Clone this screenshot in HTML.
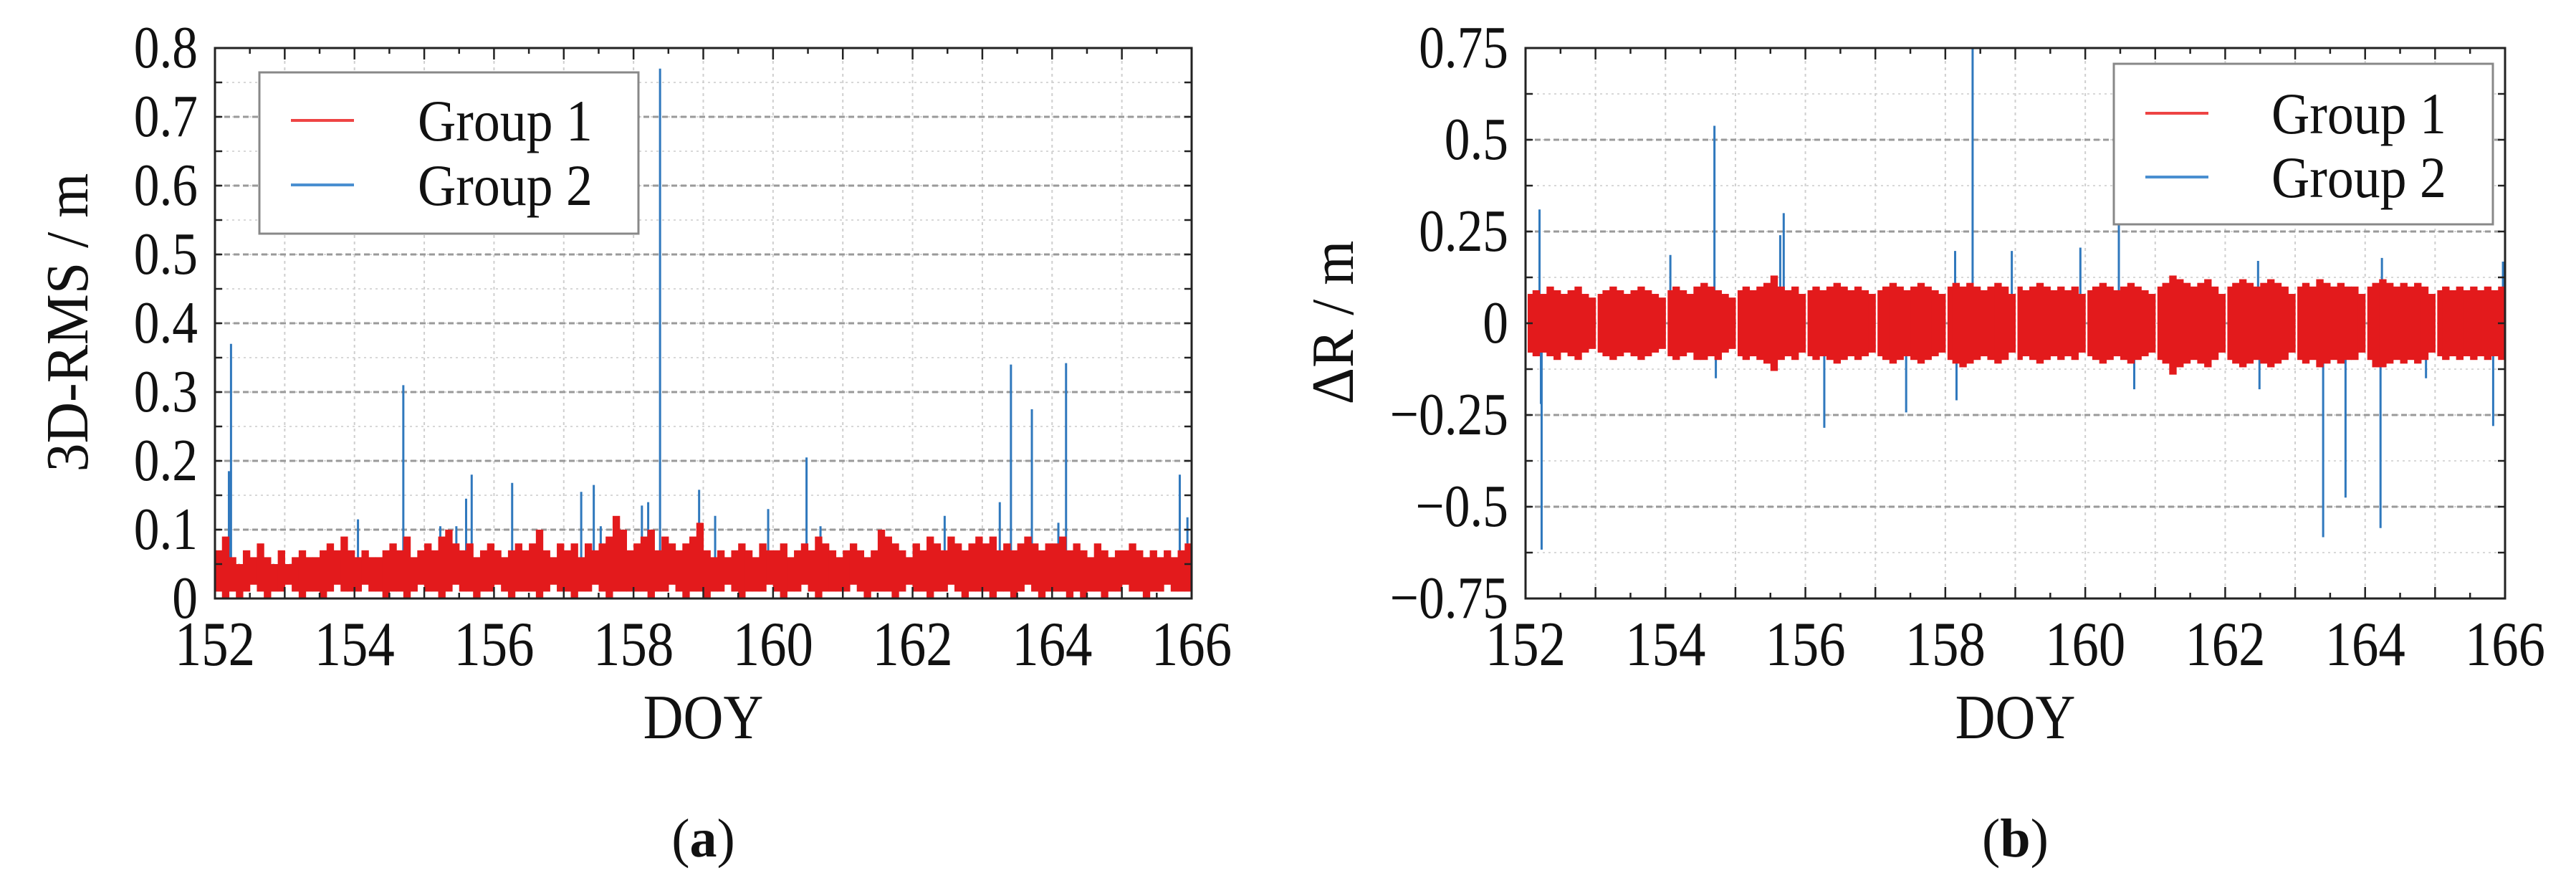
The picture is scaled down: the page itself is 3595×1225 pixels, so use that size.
<!DOCTYPE html>
<html><head><meta charset="utf-8"><style>
html,body{margin:0;padding:0;background:#fff}
svg{display:block}
text{font-family:"Liberation Serif",serif;fill:#111}
</style></head><body>
<svg id="fig" width="3595" height="1225" viewBox="0 0 3595 1225" xmlns="http://www.w3.org/2000/svg"></svg>
<script>
// ---------- data ----------
const xTicksA = [152,154,156,158,160,162,164,166];
const yTicksA = [0,0.1,0.2,0.3,0.4,0.5,0.6,0.7,0.8];
const yTickLabelsA = ["0","0.1","0.2","0.3","0.4","0.5","0.6","0.7","0.8"];
const yTicksB = [-0.75,-0.5,-0.25,0,0.25,0.5,0.75];
const yTickLabelsB = ["\u22120.75","\u22120.5","\u22120.25","0","0.25","0.5","0.75"];
const g1HighA = [.07,.09,.06,.05,.07,.06,.08,.06,.05,.07, .05,.06,.07,.06,.06,.07,.08,.07,.09,.07,
 .06,.07,.06,.06,.07,.08,.07,.09,.06,.07, .08,.07,.09,.10,.08,.07,.08,.06,.07,.08,
 .07,.06,.07,.08,.07,.08,.10,.07,.06,.08, .07,.08,.06,.08,.07,.08,.09,.12,.10,.07,
 .08,.09,.10,.07,.09,.08,.07,.08,.09,.11, .07,.06,.07,.06,.07,.08,.07,.06,.08,.07,
 .07,.08,.06,.07,.08,.07,.09,.08,.07,.06, .07,.08,.07,.06,.07,.10,.09,.08,.07,.06,
 .08,.07,.09,.08,.07,.09,.08,.07,.08,.09, .08,.09,.07,.08,.07,.08,.09,.08,.07,.08,
 .08,.09,.07,.08,.07,.06,.08,.07,.06,.07, .07,.08,.07,.06,.07,.06,.07,.06,.07,.08];
const g1LowA = [.01,.00,.01,.00,.01,.02,.01,.00,.01,.01, .02,.01,.00,.01,.01,.00,.01,.02,.01,.01,
 .01,.02,.01,.01,.00,.01,.01,.00,.01,.02, .01,.01,.00,.01,.02,.01,.01,.00,.01,.01,
 .02,.01,.00,.01,.01,.01,.00,.01,.02,.01, .01,.00,.01,.01,.02,.01,.00,.01,.01,.01,
 .01,.01,.00,.01,.01,.02,.01,.00,.01,.01, .00,.01,.01,.02,.01,.00,.01,.01,.01,.02,
 .01,.00,.01,.01,.02,.01,.00,.01,.01,.01, .01,.02,.01,.00,.01,.01,.01,.00,.01,.02,
 .01,.01,.00,.01,.01,.02,.01,.00,.01,.01, .01,.00,.01,.01,.00,.01,.02,.01,.00,.01,
 .01,.01,.00,.01,.00,.01,.01,.00,.01,.01, .02,.01,.01,.00,.01,.01,.02,.01,.01,.01];
const g1HighB = [.08,.09,.08,.10,.09,.08,.09,.10,.08,.07, .08,.09,.10,.09,.08,.09,.10,.09,.08,.07,
 .09,.10,.09,.08,.10,.11,.10,.09,.08,.07, .09,.10,.09,.10,.11,.13,.10,.09,.10,.08,
 .09,.10,.09,.10,.11,.10,.09,.10,.09,.08, .09,.10,.11,.10,.09,.10,.11,.10,.09,.08,
 .10,.11,.10,.11,.10,.09,.10,.11,.10,.08, .10,.09,.10,.11,.10,.09,.10,.09,.10,.08,
 .09,.10,.11,.10,.09,.10,.11,.10,.09,.08, .10,.11,.13,.12,.11,.10,.11,.12,.10,.08,
 .10,.11,.12,.11,.10,.11,.12,.11,.10,.08, .10,.11,.10,.12,.11,.10,.11,.10,.10,.08,
 .10,.11,.12,.11,.10,.11,.10,.11,.10,.08, .09,.10,.09,.10,.09,.10,.09,.10,.09,.10];
const g1LowB = [-.08,-.09,-.08,-.09,-.10,-.08,-.09,-.10,-.08,-.07, -.08,-.09,-.10,-.09,-.08,-.09,-.10,-.09,-.08,-.07,
 -.09,-.10,-.09,-.08,-.10,-.10,-.09,-.10,-.08,-.07, -.09,-.10,-.09,-.10,-.11,-.13,-.10,-.09,-.10,-.08,
 -.09,-.10,-.09,-.10,-.11,-.10,-.09,-.10,-.09,-.08, -.09,-.10,-.11,-.10,-.09,-.10,-.11,-.10,-.09,-.08,
 -.10,-.11,-.12,-.11,-.10,-.09,-.10,-.11,-.10,-.08, -.10,-.09,-.10,-.11,-.10,-.09,-.10,-.09,-.10,-.08,
 -.09,-.10,-.11,-.10,-.09,-.10,-.11,-.10,-.09,-.08, -.10,-.11,-.14,-.12,-.11,-.10,-.11,-.12,-.10,-.08,
 -.10,-.11,-.12,-.11,-.10,-.11,-.12,-.11,-.10,-.08, -.10,-.11,-.10,-.12,-.11,-.10,-.11,-.10,-.10,-.08,
 -.10,-.12,-.12,-.11,-.10,-.11,-.10,-.11,-.10,-.08, -.09,-.10,-.09,-.10,-.09,-.10,-.09,-.10,-.09,-.10];
const g2DoyA = [152.2,152.23,154.05,154.7,155.23,155.46,155.6,155.68,156.26,157.25,157.43,157.53,158.12,158.21,158.38,158.94,159.17,159.93,160.48,160.68,162.46,163.25,163.41,163.71,164.09,164.2,165.83,165.94];
const g2ValA = [0.185,0.37,0.115,0.31,0.105,0.105,0.145,0.18,0.168,0.155,0.165,0.105,0.135,0.14,0.77,0.158,0.12,0.13,0.205,0.105,0.12,0.14,0.34,0.275,0.11,0.342,0.18,0.118];
const g2DoyB = [152.2,152.22,152.23,154.07,154.7,154.72,155.64,155.69,156.27,157.44,158.14,158.16,158.39,158.95,159.93,160.48,160.7,162.47,162.49,163.4,163.72,164.22,164.24,164.87,165.83,165.97];
const g2ValB = [0.31,-0.22,-0.617,0.186,0.538,-0.15,0.24,0.30,-0.285,-0.243,0.197,-0.21,0.75,0.197,0.206,0.337,-0.18,0.17,-0.18,-0.583,-0.475,-0.558,0.178,-0.15,-0.28,0.168];

// ---------- drawing ----------
const NS="http://www.w3.org/2000/svg";
const svg=document.getElementById('fig');
function mk(tag,attrs,parent){const e=document.createElementNS(NS,tag);for(const k in attrs)e.setAttribute(k,attrs[k]);(parent||svg).appendChild(e);return e;}

function panel(cfg){
  const g=mk('g',{});
  
  
  const L=cfg.L,R=cfg.R,T=67,B=835;
  const sx=d=>L+(d-152)/14*(R-L);
  const sy=v=>B-(v-cfg.ymin)/(cfg.ymax-cfg.ymin)*(B-T);
  for(let v=cfg.ymin;v<=cfg.ymax+1e-9;v+=cfg.minor){
    mk('line',{x1:L,x2:R,y1:sy(v),y2:sy(v),stroke:'#d8d8d8','stroke-width':2,'stroke-dasharray':'3 5'},g);
  }
  for(let d=153;d<166;d++){
    mk('line',{x1:sx(d),x2:sx(d),y1:T,y2:B,stroke:'#cfcfcf','stroke-width':2,'stroke-dasharray':'4 5'},g);
  }
  cfg.yt.forEach(v=>{
    mk('line',{x1:L,x2:R,y1:sy(v),y2:sy(v),stroke:'#9a9a9a','stroke-width':3,'stroke-dasharray':'8 5'},g);
  });
  const bw=(R-L)/140;
  const hi=cfg.hi, lo=cfg.lo;
  cfg.sd.forEach((d,i)=>{
    const base=cfg.ymin<0?0:0.04;
    const l=mk('line',{x1:sx(d),x2:sx(d),y1:sy(base),y2:sy(Math.min(cfg.sv[i],cfg.ymax)),stroke:'#2f78bd','stroke-width':3},g);
    
    
  });
  for(let i=0;i<140;i++){
    const gapL=(i%10===0 && cfg.ymin<0)?3:0;
    const r=mk('rect',{x:L+i*bw+gapL,width:bw+0.6-gapL,y:sy(hi[i]),height:sy(lo[i])-sy(hi[i]),fill:'#e31a1c'},g);
    
    
  }
  const f=mk('rect',{x:L,y:T,width:R-L,height:B-T,fill:'none',stroke:'#222','stroke-width':3},g);
  
  
  for(let d=152;d<=166;d+=0.5){
    const len=(d%1===0)?16:8;
    mk('line',{x1:sx(d),x2:sx(d),y1:B,y2:B-len,stroke:'#222','stroke-width':2.5},g);
    mk('line',{x1:sx(d),x2:sx(d),y1:T,y2:T+len,stroke:'#222','stroke-width':2.5},g);
  }
  for(let v=cfg.ymin;v<=cfg.ymax+1e-9;v+=cfg.minor){
    mk('line',{x1:L,x2:L+10,y1:sy(v),y2:sy(v),stroke:'#222','stroke-width':2.5},g);
    mk('line',{x1:R,x2:R-10,y1:sy(v),y2:sy(v),stroke:'#222','stroke-width':2.5},g);
  }
  xTicksA.forEach(d=>{
    const t=mk('text',{x:sx(d),y:928,'font-size':88,'text-anchor':'middle',transform:`translate(${sx(d)},0) scale(0.85,1) translate(${-sx(d)},0)`},g);
    t.textContent=d;
    
    
  });
  cfg.yt.forEach((v,i)=>{
    const x=L-24;
    const t=mk('text',{x:x,y:sy(v)+27,'font-size':84,'text-anchor':'end',transform:`translate(${x},0) scale(0.85,1) translate(${-x},0)`},g);
    t.textContent=cfg.yl[i];
    
    
  });
  const xt=mk('text',{x:(L+R)/2,y:1030,'font-size':88,'text-anchor':'middle',transform:`translate(${(L+R)/2},0) scale(0.88,1) translate(${-(L+R)/2},0)`},g);
  xt.textContent='DOY';
  
  
  const yt=mk('text',{x:0,y:0,'font-size':84,'text-anchor':'middle',transform:`translate(${cfg.ytx},450) rotate(-90) scale(0.95,1)`},g);
  yt.textContent=cfg.ytitle;
  
  
  const cap=mk('text',{x:(L+R)/2,y:1195,'font-size':76,'text-anchor':'middle'},g);
  cap.innerHTML=cfg.cap;
  
  
  const lg=mk('g',{},g);
  
  
  const Lg=cfg.leg;
  mk('rect',{x:Lg.x,y:Lg.y,width:Lg.w,height:Lg.h,fill:'#fff',stroke:'#888','stroke-width':3},lg);
  [['Group 1','#ee4444',Lg.y1],['Group 2','#4a8fd0',Lg.y2]].forEach(([n,c,y])=>{
    const e=mk('g',{},lg);
    
    
    mk('line',{x1:Lg.lx,x2:Lg.lx+88,y1:y,y2:y,stroke:c,'stroke-width':4},e);
    const t=mk('text',{x:Lg.tx,y:y+28,'font-size':82,transform:`translate(${Lg.tx},0) scale(0.9,1) translate(${-Lg.tx},0)`},e);
    t.textContent=n;
  });
}
panel({name:'panel-a',L:300,R:1663,ymin:0,ymax:0.8,minor:0.05,yt:yTicksA,yl:yTickLabelsA,hi:g1HighA,lo:g1LowA,sd:g2DoyA,sv:g2ValA,
  ytx:122,ytitle:'3D-RMS / m',cap:'(<tspan font-weight="bold">a</tspan>)',
  leg:{x:362,y:101,w:529,h:225,lx:406,tx:583,y1:168,y2:258}});
panel({name:'panel-b',L:2129,R:3496,ymin:-0.75,ymax:0.75,minor:0.125,yt:yTicksB,yl:yTickLabelsB,hi:g1HighB,lo:g1LowB,sd:g2DoyB,sv:g2ValB,
  ytx:1888,ytitle:'\u0394R / m',cap:'(<tspan font-weight="bold">b</tspan>)',
  leg:{x:2950,y:89,w:529,h:224,lx:2994,tx:3170,y1:158,y2:247}});
</script>
</body></html>
